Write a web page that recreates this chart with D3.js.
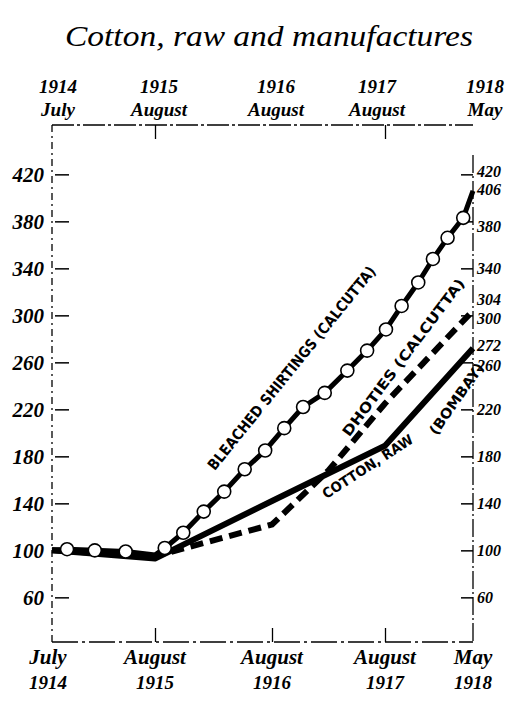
<!DOCTYPE html>
<html><head><meta charset="utf-8">
<script src="https://cdn.jsdelivr.net/npm/d3@7"></script>
<style>body{margin:0;background:#fff}</style></head>
<body>
<svg id="c" width="520" height="707"></svg>
<script>
// ---------- data ----------
const title = "Cotton, raw and manufactures";
const periodMonths = [0, 13, 25, 37, 46];            // months after July 1914
const periodMonthNames = ["July", "August", "August", "August", "May"];
const periodYears = ["1914", "1915", "1916", "1917", "1918"];
const leftTicks = [60, 100, 140, 180, 220, 260, 300, 340, 380, 420];
const rightTicks = [60, 100, 140, 180, 220, 260, 272, 300, 304, 340, 380, 406, 420];
const rightEndValues = [272, 304, 406];

const shirtingName = "BLEACHED SHIRTINGS (CALCUTTA)";
const shirtingMonths = [0, 1.9, 5.4, 9.3, 13, 14, 15.9, 18, 20.1, 22.2, 24.3, 26.3, 28.3, 30.6, 33, 35.1, 37.1, 38.7, 40.4, 41.9, 43.4, 45, 46];
const shirtingValues = [100, 101, 100, 99, 96, 102, 115, 133, 150, 169, 185, 204, 222, 234, 253, 270, 288, 308, 328, 348, 366, 383, 406];

const dhotiesName = "DHOTIES (CALCUTTA)";
const dhotiesMonths = [0, 13, 25, 31, 37, 46];
const dhotiesValues = [100, 95, 122, 168, 225, 304];

const rawName1 = "COTTON, RAW";
const rawName2 = "(BOMBAY)";
const rawMonths = [0, 13, 25, 37, 46];
const rawValues = [100, 93, 142, 189, 272];

// ---------- layout ----------
const svg = d3.select("#c");
const L = 52, R = 473, T = 125, B = 642;
const x = d3.scaleLinear().domain(periodMonths).range([L, 155, 272, 385, R]);
const y = d3.scaleLinear().domain([22, 462]).range([B, T]);
const numFont = "'Liberation Serif', serif";

// title
svg.append("text").attr("x", 269).attr("y", 46).attr("text-anchor", "middle")
  .attr("font-family", numFont).attr("font-style", "italic").attr("font-size", 30)
  .attr("textLength", 408).attr("lengthAdjust", "spacingAndGlyphs")
  .text(title);

// frame lines
const frame = svg.append("g").attr("fill", "none").attr("stroke", "#000").attr("stroke-width", 1.3);
frame.append("line").attr("x1", L).attr("x2", R).attr("y1", T).attr("y2", T).attr("stroke-dasharray", "22,3,3,3");
frame.append("line").attr("x1", L).attr("x2", R).attr("y1", B).attr("y2", B).attr("stroke-dasharray", "26,4,3,4");
frame.append("line").attr("x1", L).attr("x2", L).attr("y1", T).attr("y2", B).attr("stroke-dasharray", "7,4,2,4");
frame.append("line").attr("x1", R).attr("x2", R).attr("y1", T + 30).attr("y2", B).attr("stroke-dasharray", "18,3,2,3");

// top ticks (inside)
const topAx = svg.append("g").attr("transform", `translate(0,${T})`)
  .call(d3.axisBottom(x).tickValues([periodMonths[1], periodMonths[3]]).tickSize(14).tickFormat(""));
topAx.select(".domain").remove();
topAx.selectAll("line").attr("stroke-width", 1.3);

// bottom ticks (inside)
const botAx = svg.append("g").attr("transform", `translate(0,${B})`)
  .call(d3.axisBottom(x).tickValues(periodMonths.slice(1, 4)).tickSize(-14).tickFormat(""));
botAx.select(".domain").remove();
botAx.selectAll("line").attr("stroke-width", 1.3);

// top labels
periodMonths.forEach((m, i) => {
  const g = svg.append("g").attr("font-family", numFont).attr("font-style", "italic")
    .attr("font-weight", "bold").attr("text-anchor", "middle");
  const cx = x(m) + (i === 0 ? 6 : i === 4 ? 12 : i === 3 ? -8 : 4);
  g.append("text").attr("x", cx).attr("y", 93).attr("font-size", 19).text(periodYears[i]);
  g.append("text").attr("x", cx).attr("y", 116).attr("font-size", 19).text(periodMonthNames[i]);
});

// bottom labels
periodMonths.forEach((m, i) => {
  const g = svg.append("g").attr("font-family", numFont).attr("font-style", "italic")
    .attr("font-weight", "bold").attr("text-anchor", "middle");
  const cx = x(m) + (i === 0 ? -4 : 0);
  g.append("text").attr("x", cx).attr("y", 664).attr("font-size", 21).text(periodMonthNames[i]);
  g.append("text").attr("x", cx).attr("y", 689).attr("font-size", 19).text(periodYears[i]);
});

// left axis
const la = svg.append("g").attr("transform", `translate(${L},0)`)
  .call(d3.axisLeft(y).tickValues(leftTicks).tickSize(-14).tickPadding(8).tickFormat(d3.format("d")));
la.select(".domain").remove();
la.selectAll("line").attr("stroke-width", 1.5).attr("transform", "translate(3,0)");
la.selectAll("text").attr("font-family", numFont).attr("font-style", "italic")
  .attr("font-weight", "bold").attr("font-size", 21);

// right axis
const nudge = {304: -11, 300: 3, 272: -3, 260: 3, 406: -1, 380: 5, 420: -3};
const ra = svg.append("g").attr("transform", `translate(${R},0)`)
  .call(d3.axisRight(y).tickValues(rightTicks).tickSize(-12).tickPadding(4).tickFormat(d3.format("d")));
ra.select(".domain").remove();
ra.selectAll(".tick").filter(d => rightEndValues.includes(d)).select("line").remove();
ra.selectAll("line").attr("stroke-width", 1.5);
ra.selectAll("text").attr("font-family", numFont).attr("font-style", "italic")
  .attr("font-weight", "bold").attr("font-size", 16)
  .attr("dy", d => (nudge[d] || 0) + 5);

// lines
const line = d3.line().x(d => x(d[0])).y(d => y(d[1]));
const raw = rawMonths.map((m, i) => [m, rawValues[i]]);
const dho = dhotiesMonths.map((m, i) => [m, dhotiesValues[i]]);
const shi = shirtingMonths.map((m, i) => [m, shirtingValues[i]]);

svg.append("path").datum(raw).attr("d", line).attr("fill", "none")
  .attr("stroke", "#000").attr("stroke-width", 6).attr("stroke-linejoin", "round");
svg.append("path").datum(dho).attr("d", line).attr("fill", "none")
  .attr("stroke", "#000").attr("stroke-width", 6).attr("stroke-dasharray", "13,7");
svg.append("path").datum(shi).attr("d", line).attr("fill", "none")
  .attr("stroke", "#000").attr("stroke-width", 5).attr("stroke-linejoin", "round");
svg.append("g").selectAll("circle").data(shi.filter((d, i) => i > 0 && i < shi.length - 1 && d[0] !== 13))
  .join("circle").attr("cx", d => x(d[0])).attr("cy", d => y(d[1])).attr("r", 6.5)
  .attr("fill", "#fff").attr("stroke", "#000").attr("stroke-width", 1.6);

// series labels
function lab(txt, cx, cy, ang, len, size) {
  svg.append("text").attr("transform", `translate(${cx},${cy}) rotate(${ang})`)
    .attr("text-anchor", "middle").attr("dominant-baseline", "central")
    .attr("font-family", "'DejaVu Sans', sans-serif").attr("font-weight", "bold")
    .attr("font-size", size).attr("textLength", len).attr("lengthAdjust", "spacingAndGlyphs")
    .text(txt);
}
lab(shirtingName, x(27.1), y(255), -51, 257, 15);
lab(dhotiesName, x(39.8) - 9, y(260) - 5, -53, 193, 14);
lab(rawName1, x(36) - 8, y(173) + 2, -33, 105, 14);
lab(rawName2, x(43.8) + 5, y(235) + 7, -55, 84, 14);
</script>
</body></html>
